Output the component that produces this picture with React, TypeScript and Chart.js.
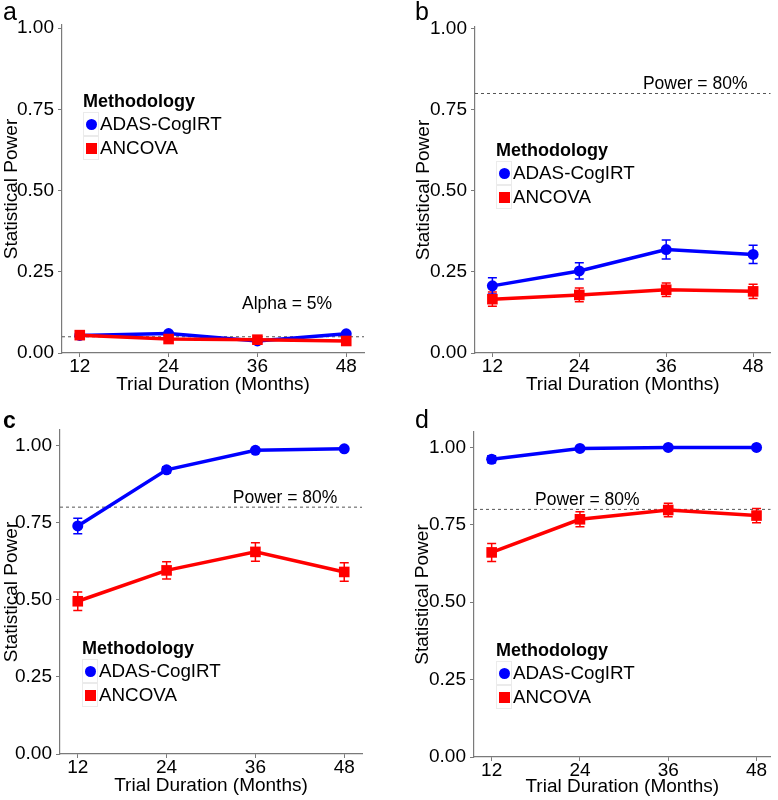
import { useEffect, useRef } from "react"
import { Chart, registerables } from "chart.js"

Chart.register(...registerables)

// shared axes
const durations = [12, 24, 36, 48]
const powerTicks = [0, 0.25, 0.5, 0.75, 1]
const methods = ["ADAS-CogIRT", "ANCOVA"]

// panel a
const irtA = [0.054, 0.06, 0.037, 0.059]
const irtErrA = [0.005, 0.006, 0.004, 0.005]
const ancA = [0.055, 0.043, 0.041, 0.037]
const ancErrA = [0.005, 0.005, 0.004, 0.004]

// panel b
const irtB = [0.207, 0.253, 0.319, 0.304]
const irtErrB = [0.025, 0.025, 0.029, 0.028]
const ancB = [0.166, 0.179, 0.195, 0.19]
const ancErrB = [0.022, 0.021, 0.021, 0.022]

// panel c
const irtC = [0.739, 0.921, 0.984, 0.989]
const irtErrC = [0.025, 0.01, 0.006, 0.004]
const ancC = [0.495, 0.595, 0.655, 0.59]
const ancErrC = [0.03, 0.028, 0.03, 0.03]

// panel d
const irtD = [0.962, 0.997, 1.0, 1.0]
const irtErrD = [0.011, 0.004, 0.002, 0.002]
const ancD = [0.661, 0.768, 0.798, 0.78]
const ancErrD = [0.029, 0.024, 0.022, 0.023]

// reference lines and their labels
const refLevels = [0.05, 0.8, 0.8, 0.8]
const refLabels = ["Alpha = 5%", "Power = 80%", "Power = 80%", "Power = 80%"]
const refLabelX = [40, 40, 40, 25]
const refLabelY = [0.15, 0.83, 0.83, 0.83]

const FONT = "'Liberation Sans', Arial, Helvetica, sans-serif"
const BLUE = "#0000ff"
const RED = "#ff0000"
const AXIS = "#7a7a7a"

type Layout = {
  pad: { left: number; top: number; right: number; bottom: number }
  yWidth: number
  xHeight: number
  yMax: number
  xMax: number
  titleBottom: number
  legend: [number, number]
  letter: [number, number]
  bold?: boolean
}

type PanelProps = {
  idx: number
  letter: string
  irt: number[]
  irtErr: number[]
  anc: number[]
  ancErr: number[]
  layout: Layout
  left: number
  top: number
}

const errorBars = {
  id: "errorBars",
  beforeDatasetsDraw(chart: any, _args: any, opts: any) {
    const { ctx, chartArea } = chart
    const xs = chart.scales.x
    const ys = chart.scales.y
    // dashed reference line
    const ry = ys.getPixelForValue(opts.ref)
    ctx.save()
    ctx.strokeStyle = "#555"
    ctx.lineWidth = 1
    ctx.setLineDash([3, 3])
    ctx.beginPath()
    ctx.moveTo(chartArea.left, ry)
    ctx.lineTo(chartArea.right, ry)
    ctx.stroke()
    ctx.setLineDash([])

    chart.data.datasets.forEach((ds: any) => {
      ctx.strokeStyle = ds.borderColor
      ctx.lineWidth = 1.5
      ds.data.forEach((p: any, i: number) => {
        const e = ds.errors[i]
        const x = xs.getPixelForValue(p.x)
        const y1 = ys.getPixelForValue(p.y - e)
        const y2 = ys.getPixelForValue(p.y + e)
        ctx.beginPath()
        ctx.moveTo(x, y1)
        ctx.lineTo(x, y2)
        ctx.moveTo(x - 4.5, y1)
        ctx.lineTo(x + 4.5, y1)
        ctx.moveTo(x - 4.5, y2)
        ctx.lineTo(x + 4.5, y2)
        ctx.stroke()
      })
    })

    ctx.fillStyle = "#000"
    ctx.font = `17.5px ${FONT}`
    ctx.textAlign = "center"
    ctx.textBaseline = "middle"
    ctx.fillText(opts.label, xs.getPixelForValue(opts.labelX), ys.getPixelForValue(opts.labelY))
    ctx.restore()
  },
}

function Panel({ idx, letter, irt, irtErr, anc, ancErr, layout, left, top }: PanelProps) {
  const chartRef = useRef<HTMLCanvasElement>(null)

  useEffect(() => {
    if (!chartRef.current) return
    const chart = new Chart(chartRef.current, {
      type: "line",
      data: {
        datasets: [
          {
            label: methods[1],
            data: durations.map((d, i) => ({ x: d, y: anc[i] })),
            errors: ancErr,
            borderColor: RED,
            backgroundColor: RED,
            borderWidth: 3.5,
            pointStyle: "rect",
            pointRadius: 7.5,
            pointBorderWidth: 0,
            tension: 0,
            clip: false,
          } as any,
          {
            label: methods[0],
            data: durations.map((d, i) => ({ x: d, y: irt[i] })),
            errors: irtErr,
            borderColor: BLUE,
            backgroundColor: BLUE,
            borderWidth: 3.5,
            pointStyle: "circle",
            pointRadius: 5.5,
            pointBorderWidth: 0,
            tension: 0,
            clip: false,
          } as any,
        ],
      },
      options: {
        animation: false,
        responsive: false,
        layout: { padding: layout.pad },
        scales: {
          x: {
            type: "linear",
            min: 9.6,
            max: layout.xMax,
            afterBuildTicks: (s: any) => {
              s.ticks = durations.map((v) => ({ value: v }))
            },
            afterFit: (s: any) => {
              s.height = layout.xHeight
            },
            grid: { drawOnChartArea: false, drawTicks: true, tickLength: 4, color: AXIS },
            border: { display: true, color: AXIS, width: 1.2 },
            ticks: {
              color: "#000",
              padding: 0,
              maxRotation: 0,
              font: { family: FONT, size: 19, lineHeight: 1 },
              callback: (v: any) => String(v),
            },
            title: {
              display: true,
              text: "Trial Duration (Months)",
              color: "#000",
              font: { family: FONT, size: 19 },
              padding: { top: 0, bottom: layout.titleBottom },
            },
          },
          y: {
            type: "linear",
            min: 0,
            max: layout.yMax,
            afterBuildTicks: (s: any) => {
              s.ticks = powerTicks.map((v) => ({ value: v }))
            },
            afterFit: (s: any) => {
              s.width = layout.yWidth
            },
            grid: { drawOnChartArea: false, drawTicks: true, tickLength: 4, color: AXIS },
            border: { display: true, color: AXIS, width: 1.2 },
            ticks: {
              color: "#000",
              padding: 4,
              font: { family: FONT, size: 19 },
              callback: (v: any) => Number(v).toFixed(2),
            },
            title: {
              display: true,
              text: "Statistical Power",
              color: "#000",
              font: { family: FONT, size: 19 },
              padding: { top: 0, bottom: 0 },
            },
          },
        },
        plugins: {
          legend: { display: false },
          tooltip: { enabled: false },
          errorBars: {
            ref: refLevels[idx],
            label: refLabels[idx],
            labelX: refLabelX[idx],
            labelY: refLabelY[idx],
          },
        } as any,
      },
      plugins: [errorBars],
    })
    return () => chart.destroy()
  }, [])

  const [lx, ly] = layout.legend
  const letterSize = layout.bold ? 23 : 25
  return (
    <div style={{ position: "absolute", left, top, width: 389, height: 400, fontFamily: FONT, color: "#000" }}>
      <canvas ref={chartRef} width={389} height={400} style={{ display: "block" }} />
      <div
        style={{
          position: "absolute",
          left: layout.letter[0],
          top: layout.letter[1] - letterSize * 0.8465,
          fontSize: letterSize,
          lineHeight: 1,
          fontWeight: layout.bold ? 700 : 400,
        }}
      >
        {letter}
      </div>
      <div style={{ position: "absolute", left: lx, top: ly - 11, fontSize: 18, fontWeight: 700, lineHeight: "22px", whiteSpace: "nowrap" }}>
        Methodology
      </div>
      {methods.map((m, i) => (
        <div
          key={m}
          style={{ position: "absolute", left: lx, top: ly + 23 + i * 24 - 12, height: 24, display: "flex", alignItems: "center", whiteSpace: "nowrap" }}
        >
          <div
            style={{
              width: 16,
              height: 24,
              boxSizing: "border-box",
              border: "1px solid #ebebeb",
              display: "flex",
              alignItems: "center",
              justifyContent: "center",
            }}
          >
            <div style={{ width: 11, height: 11, background: i === 0 ? BLUE : RED, borderRadius: i === 0 ? "50%" : 0 }} />
          </div>
          <div style={{ fontSize: 18.8, lineHeight: "24px", marginLeft: 1 }}>{m}</div>
        </div>
      ))}
    </div>
  )
}

const layouts: Layout[] = [
  { pad: { left: 0, top: 25, right: 25, bottom: 0 }, yWidth: 62, xHeight: 47, yMax: 1.01, xMax: 50.4, titleBottom: 3.6, legend: [83, 101], letter: [3, 20] },
  { pad: { left: 23, top: 27, right: 1, bottom: 0 }, yWidth: 63, xHeight: 47, yMax: 1.005, xMax: 50.4, titleBottom: 3.6, legend: [107, 150], letter: [26, 20] },
  { pad: { left: 0, top: 30, right: 27, bottom: 0 }, yWidth: 60, xHeight: 46, yMax: 1.05, xMax: 50.4, titleBottom: 2.6, legend: [82, 248], letter: [3, 28], bold: true },
  { pad: { left: 22, top: 32, right: 6, bottom: 0 }, yWidth: 63, xHeight: 43, yMax: 1.05, xMax: 49.9, titleBottom: 1.6, legend: [107, 250], letter: [26, 28] },
]

export default function App() {
  return (
    <div style={{ position: "absolute", left: 0, top: 0, width: 778, height: 800, background: "#fff", overflow: "hidden" }}>
      <Panel idx={0} letter="a" irt={irtA} irtErr={irtErrA} anc={ancA} ancErr={ancErrA} layout={layouts[0]} left={0} top={0} />
      <Panel idx={1} letter="b" irt={irtB} irtErr={irtErrB} anc={ancB} ancErr={ancErrB} layout={layouts[1]} left={389} top={0} />
      <Panel idx={2} letter="c" irt={irtC} irtErr={irtErrC} anc={ancC} ancErr={ancErrC} layout={layouts[2]} left={0} top={400} />
      <Panel idx={3} letter="d" irt={irtD} irtErr={irtErrD} anc={ancD} ancErr={ancErrD} layout={layouts[3]} left={389} top={400} />
    </div>
  )
}
